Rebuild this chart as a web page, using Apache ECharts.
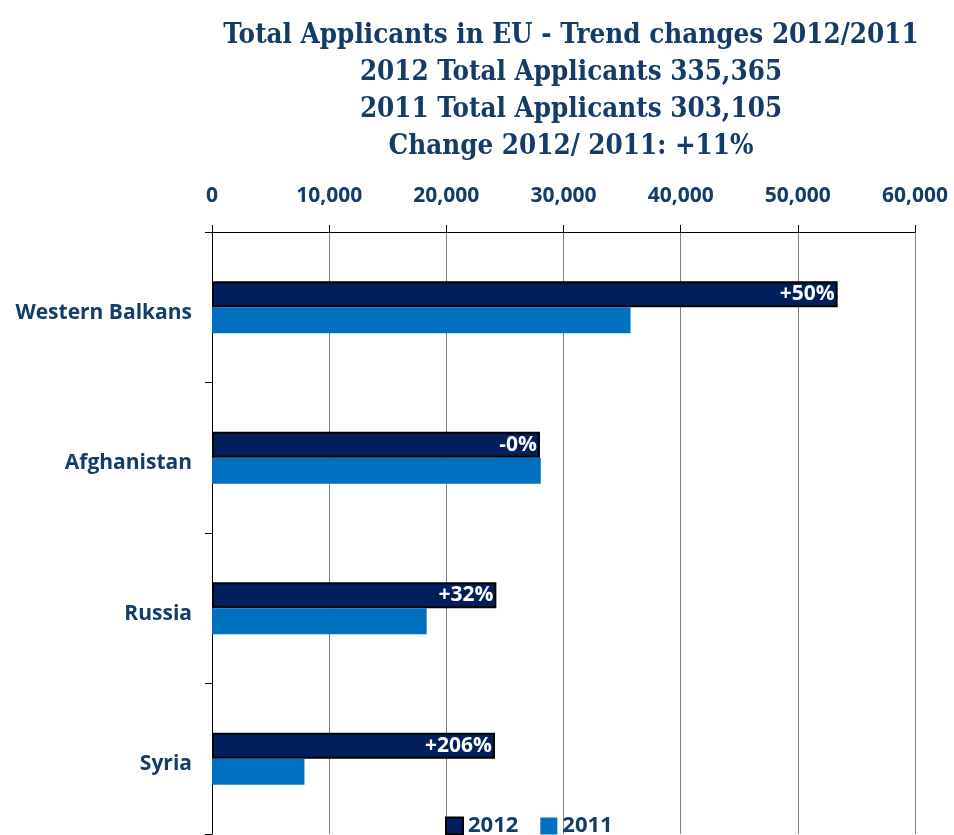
<!DOCTYPE html>
<html>
<head>
<meta charset="utf-8">
<style>
  html, body { margin: 0; padding: 0; background: #ffffff; }
  #chart { width: 954px; height: 835px; }
</style>
<script src="https://cdn.jsdelivr.net/npm/echarts@6/dist/echarts.min.js"></script>
</head>
<body>
<div id="chart"></div>
<script>
// Applicants per origin, 2012 vs 2011
var categories = ['Western Balkans', 'Afghanistan', 'Russia', 'Syria'];
var applicants2012 = [53400, 27990, 24270, 24150];
var applicants2011 = [35720, 28060, 18320, 7890];
var changeLabels = ['+50%', '-0%', '+32%', '+206%'];
var xTicks = [0, 10000, 20000, 30000, 40000, 50000, 60000];
var titleLines = [
  'Total Applicants in EU - Trend changes 2012/2011',
  '2012 Total Applicants 335,365',
  '2011 Total Applicants 303,105',
  'Change 2012/ 2011: +11%'
];

var textBlue = '#153B69';
var labelFont = 'Open Sans';

var chart = echarts.init(document.getElementById('chart'));
chart.setOption({
  animation: false,
  title: {
    text: titleLines.join('\n'),
    left: 566,
    top: 12,
    textAlign: 'center',
    textStyle: {
      fontFamily: 'DejaVu Serif Condensed',
      fontWeight: 'bold',
      fontSize: 27.5,
      lineHeight: 37,
      color: textBlue
    }
  },
  legend: {
    bottom: -7,
    left: 440,
    itemWidth: 17,
    itemHeight: 17,
    itemGap: 22,
    icon: 'rect',
    textStyle: {
      fontFamily: labelFont,
      fontWeight: 'bold',
      fontSize: 22,
      color: textBlue
    },
    data: ['2012', '2011']
  },
  grid: {
    left: 212,
    right: 39,
    top: 232,
    bottom: 1
  },
  xAxis: {
    type: 'value',
    position: 'top',
    min: xTicks[0],
    max: xTicks[xTicks.length - 1],
    interval: xTicks[1] - xTicks[0],
    axisLine: { show: true, lineStyle: { color: '#000000', width: 1 } },
    axisTick: { show: true, length: 7, lineStyle: { color: '#000000' } },
    splitLine: { show: true, lineStyle: { color: '#808080', width: 1 } },
    axisLabel: {
      margin: 25,
      fontFamily: labelFont,
      fontWeight: 'bold',
      fontSize: 21,
      color: textBlue,
      formatter: function (v) { return v.toLocaleString('en-US'); }
    }
  },
  yAxis: {
    type: 'category',
    inverse: true,
    data: categories,
    axisLine: { show: true, lineStyle: { color: '#000000', width: 1 } },
    axisTick: { show: true, length: 7, lineStyle: { color: '#000000' } },
    axisLabel: {
      margin: 20,
      fontFamily: labelFont,
      fontWeight: 'bold',
      fontSize: 21,
      color: textBlue,
      formatter: function (v) { return '{c|' + v + '}'; },
      rich: {
        c: {
          padding: [11, 0, 0, 0],
          fontFamily: labelFont,
          fontWeight: 'bold',
          fontSize: 21,
          color: textBlue
        }
      }
    }
  },
  series: [
    {
      name: '2012',
      type: 'bar',
      data: applicants2012,
      barWidth: 26,
      barGap: '0%',
      itemStyle: { color: '#001F5C', borderColor: '#000000', borderWidth: 2 },
      label: {
        show: true,
        position: 'insideRight',
        distance: 3,
        fontFamily: labelFont,
        fontWeight: 'bold',
        fontSize: 21,
        color: '#ffffff',
        formatter: function (p) { return changeLabels[p.dataIndex]; }
      }
    },
    {
      name: '2011',
      type: 'bar',
      data: applicants2011,
      barWidth: 26,
      barGap: '0%',
      itemStyle: { color: '#0070C0' }
    }
  ]
});
</script>
</body>
</html>
